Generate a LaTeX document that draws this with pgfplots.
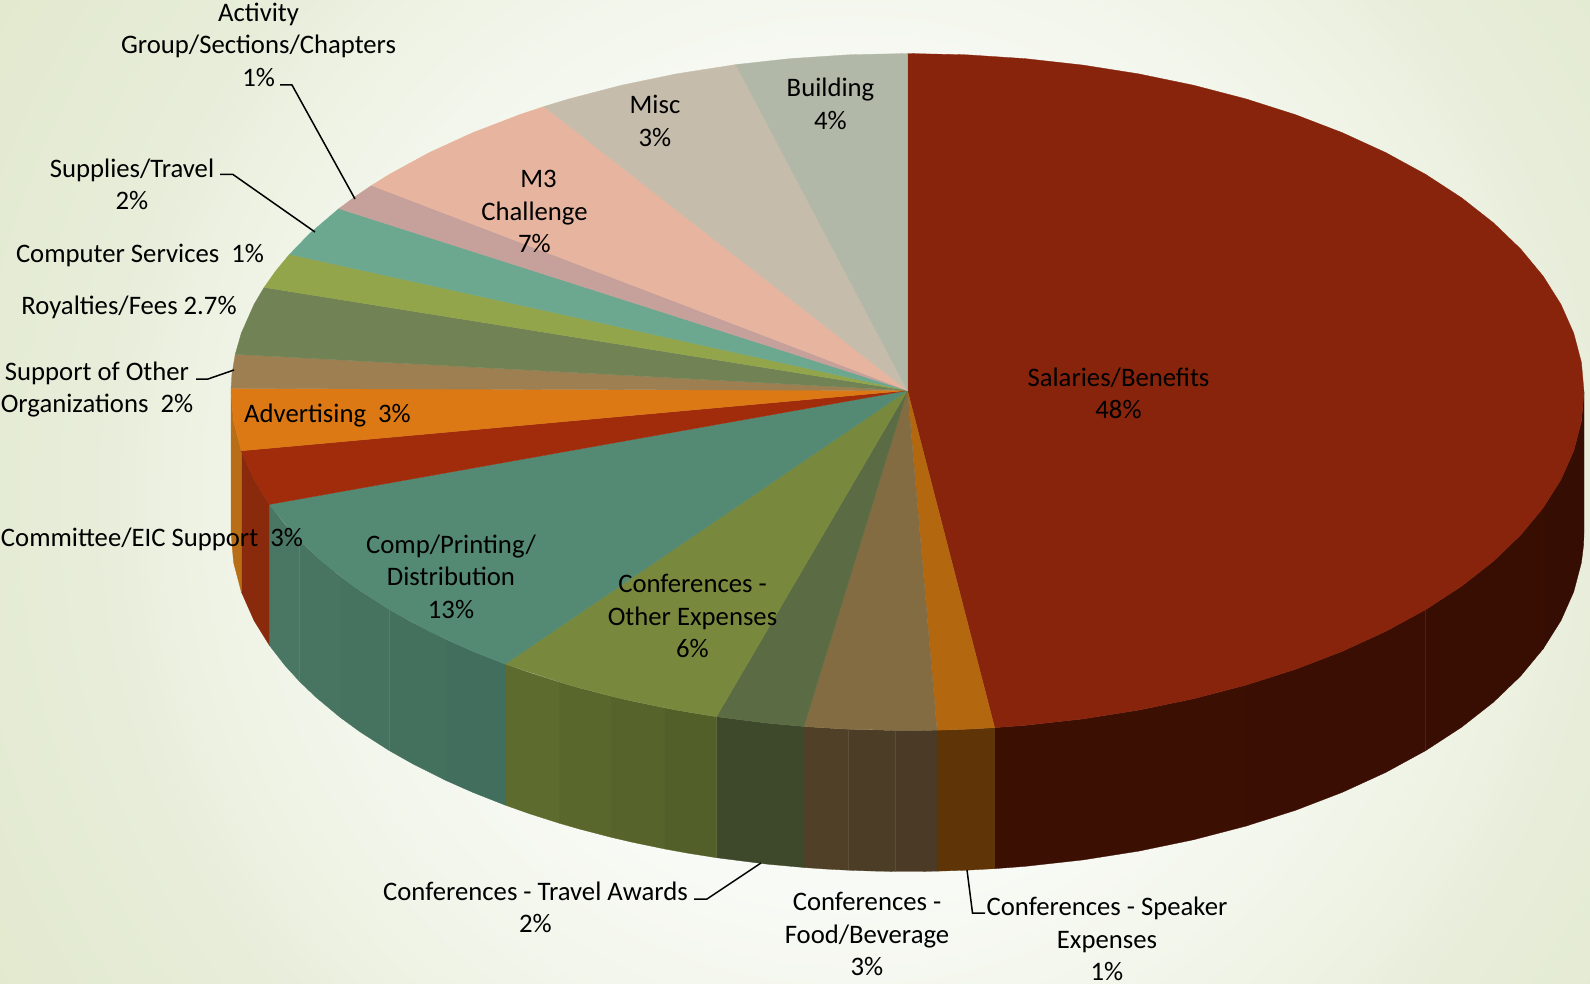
\documentclass[border=0pt]{standalone}
\usepackage{pgfplots}
\pgfplotsset{compat=1.18}
\usepackage{fontspec}
\setmainfont{Carlito}
\definecolor{bg0}{HTML}{FCFDFA}
\definecolor{bg1}{HTML}{F8FAF5}
\definecolor{bg2}{HTML}{EFF3E5}
\definecolor{bg3}{HTML}{E7EDD9}
\definecolor{bg4}{HTML}{E2E9CE}
\pgfdeclareradialshading{pagebg}{\pgfpoint{0bp}{0bp}}{color(0bp)=(bg0);color(9.1bp)=(bg1);color(14.5bp)=(bg2);color(17.3bp)=(bg3);color(22.7bp)=(bg4);color(50bp)=(bg4)}
\newcommand{\cx}{907.5}
\newcommand{\cy}{392}
\newcommand{\rx}{676.5}
\newcommand{\ry}{338.5}
\newcommand{\dep}{141}
% a = angle on the ellipse (clockwise from the right), r = radius share, d = 1 on the lower rim
\newcommand{\piece}[2]{\definecolor{c#1}{HTML}{#1}\addplot[draw=c#1,fill=c#1,line width=0.3pt,forget plot] table[row sep=\\,x expr={\cx+\rx*\thisrow{r}*cos(\thisrow{a})},y expr={\cy+\ry*\thisrow{r}*sin(\thisrow{a})+\dep*\thisrow{d}}]{a r d\\#2} -- cycle;}
\newcommand{\lab}[3]{\node[align=center,text=black,font=\fontsize{26.7}{32.5}\selectfont,inner sep=0pt] at (axis cs:#1,#2) {#3};}
\begin{document}
\begin{tikzpicture}[x=1pt,y=1pt]
\useasboundingbox (0,0) rectangle (1590,984);
\begin{scope}
\clip (0,0) rectangle (1590,984);
\shade[shading=pagebg] (850-1100,484-1100) rectangle (850+1100,484+1100);
\end{scope}
\begin{axis}[at={(0pt,0pt)},anchor=south west,scale only axis,width=1590pt,height=984pt,
  xmin=0,xmax=1590,ymin=0,ymax=984,y dir=reverse,hide axis,clip=false,
  leader/.style={black,line width=1.5pt,forget plot}]
% side walls
\piece{360D02}{0 1 0\\5 1 0\\10 1 0\\15 1 0\\20 1 0\\20 1 1\\15 1 1\\10 1 1\\5 1 1\\2 1 1\\0 1 1\\}
\piece{380E02}{20 1 0\\25 1 0\\30 1 0\\35 1 0\\40 1 0\\40 1 1\\35 1 1\\30 1 1\\25 1 1\\20 1 1\\}
\piece{3A0E03}{40 1 0\\45 1 0\\50 1 0\\55 1 0\\60 1 0\\60 1 1\\55 1 1\\50 1 1\\45 1 1\\40 1 1\\}
\piece{3C0F03}{60 1 0\\65 1 0\\70 1 0\\75 1 0\\80 1 0\\82.6 1 0\\82.6 1 1\\80 1 1\\75 1 1\\70 1 1\\65 1 1\\60 1 1\\}
\piece{5F3508}{82.6 1 0\\85 1 0\\87.5 1 0\\87.5 1 1\\85 1 1\\82.6 1 1\\}
\piece{4A3A26}{87.5 1 0\\89 1 0\\91 1 0\\91 1 1\\89 1 1\\87.5 1 1\\}
\piece{4C3D26}{91 1 0\\93 1 0\\95 1 0\\95 1 1\\93 1 1\\91 1 1\\}
\piece{4F4027}{95 1 0\\97 1 0\\98.8 1 0\\98.8 1 1\\97 1 1\\95 1 1\\}
\piece{3E482A}{98.8 1 0\\102 1 0\\106.4 1 0\\106.4 1 1\\102 1 1\\98.8 1 1\\}
\piece{535F29}{106.4 1 0\\109 1 0\\111 1 0\\111 1 1\\109 1 1\\106.4 1 1\\}
\piece{56632A}{111 1 0\\114 1 0\\116 1 0\\116 1 1\\114 1 1\\111 1 1\\}
\piece{5A672C}{116 1 0\\119 1 0\\121 1 0\\121 1 1\\119 1 1\\116 1 1\\}
\piece{5E6B2F}{121 1 0\\124 1 0\\126.5 1 0\\126.5 1 1\\124 1 1\\121 1 1\\}
\piece{426E5D}{126.5 1 0\\130 1 0\\133 1 0\\133 1 1\\130 1 1\\126.5 1 1\\}
\piece{44705E}{133 1 0\\137 1 0\\140 1 0\\140 1 1\\137 1 1\\133 1 1\\}
\piece{467260}{140 1 0\\144 1 0\\147 1 0\\147 1 1\\144 1 1\\140 1 1\\}
\piece{487561}{147 1 0\\151 1 0\\154 1 0\\154 1 1\\151 1 1\\147 1 1\\}
\piece{4A7763}{154 1 0\\157 1 0\\160.6 1 0\\160.6 1 1\\157 1 1\\154 1 1\\}
\piece{8A2A0C}{160.6 1 0\\165 1 0\\170 1 0\\170 1 1\\165 1 1\\160.6 1 1\\}
\piece{B86E17}{170 1 0\\175 1 0\\180 1 0\\180 1 1\\175 1 1\\170 1 1\\}
% top surface
\piece{87240B}{-90 .0044 0\\-90 1 0\\-85 1 0\\-80 1 0\\-75 1 0\\-70 1 0\\-65 1 0\\-60 1 0\\-55 1 0\\-50 1 0\\-45 1 0\\-40 1 0\\-35 1 0\\-30 1 0\\-25 1 0\\-20 1 0\\-15 1 0\\-10 1 0\\-5 1 0\\0 1 0\\5 1 0\\10 1 0\\15 1 0\\20 1 0\\25 1 0\\30 1 0\\35 1 0\\40 1 0\\45 1 0\\50 1 0\\55 1 0\\60 1 0\\65 1 0\\70 1 0\\75 1 0\\80 1 0\\82.6 1 0\\}
\piece{B3670F}{-90 .0044 0\\82.6 1 0\\85 1 0\\87.5 1 0\\}
\piece{846C42}{-90 .0044 0\\87.5 1 0\\90 1 0\\95 1 0\\98.8 1 0\\}
\piece{5B6B43}{-90 .0044 0\\98.8 1 0\\102 1 0\\106.4 1 0\\}
\piece{78893D}{-90 .0044 0\\106.4 1 0\\110 1 0\\115 1 0\\120 1 0\\126.5 1 0\\}
\piece{548A74}{-90 .0044 0\\126.5 1 0\\130 1 0\\135 1 0\\140 1 0\\145 1 0\\150 1 0\\155 1 0\\160.6 1 0\\}
\piece{A02C0C}{-90 .0044 0\\160.6 1 0\\165 1 0\\170 1 0\\}
\piece{DC7914}{-90 .0044 0\\170 1 0\\175 1 0\\180 1 0\\180.6 1 0\\}
\piece{9E7F52}{-90 .0044 0\\180.6 1 0\\183 1 0\\186.4 1 0\\}
\piece{718255}{-90 .0044 0\\186.4 1 0\\190 1 0\\195 1 0\\198 1 0\\}
\piece{92A54A}{-90 .0044 0\\198 1 0\\201 1 0\\204 1 0\\}
\piece{6BA88F}{-90 .0044 0\\204 1 0\\208 1 0\\212.8 1 0\\}
\piece{C6A09A}{-90 .0044 0\\212.8 1 0\\215 1 0\\217.6 1 0\\}
\piece{E7B59F}{-90 .0044 0\\217.6 1 0\\220 1 0\\225 1 0\\230 1 0\\235 1 0\\237.5 1 0\\}
\piece{C5BCAB}{-90 .0044 0\\237.5 1 0\\240 1 0\\245 1 0\\250 1 0\\255.3 1 0\\}
\piece{B2B8A7}{-90 .0044 0\\255.3 1 0\\260 1 0\\265 1 0\\270 1 0\\}
% leader lines
\addplot[leader] coordinates {(280,85) (292,85) (355,199)};
\addplot[leader] coordinates {(220,174.5) (233,174.5) (315,232)};
\addplot[leader] coordinates {(196,379) (208,379) (234,370)};
\addplot[leader] coordinates {(694,899) (707,899) (761,863)};
\addplot[leader] coordinates {(967,870) (972.5,913) (985,913)};
% labels
\lab{258.6}{44.6}{Activity\\Group/Sections/Chapters\\1\%}
\lab{132}{184.5}{Supplies/Travel\\2\%}
\lab{140}{255.5}{Computer Services\ \ 1\%}
\lab{129}{307}{Royalties/Fees 2.7\%}
\lab{97}{389.5}{Support of Other\\Organizations\ \ 2\%}
\lab{327.5}{416}{Advertising\ \ 3\%}
\lab{152}{539.5}{Committee/EIC Support\ \ 3\%}
\lab{451}{576.5}{Comp/Printing/\\Distribution\\13\%}
\lab{692.5}{616}{Conferences -\\Other Expenses\\6\%}
\lab{534.5}{211.5}{\hspace{8pt}M3\\Challenge\\7\%}
\lab{655}{121}{Misc\\3\%}
\lab{830.5}{104}{Building\\4\%}
\lab{1118.5}{393.5}{Salaries/Benefits\\48\%}
\lab{535.5}{907.5}{Conferences - Travel Awards\\2\%}
\lab{867}{934}{Conferences -\\Food/Beverage\\3\%}
\lab{1107}{939}{Conferences - Speaker\\Expenses\\1\%}
\end{axis}
\end{tikzpicture}
\end{document}
